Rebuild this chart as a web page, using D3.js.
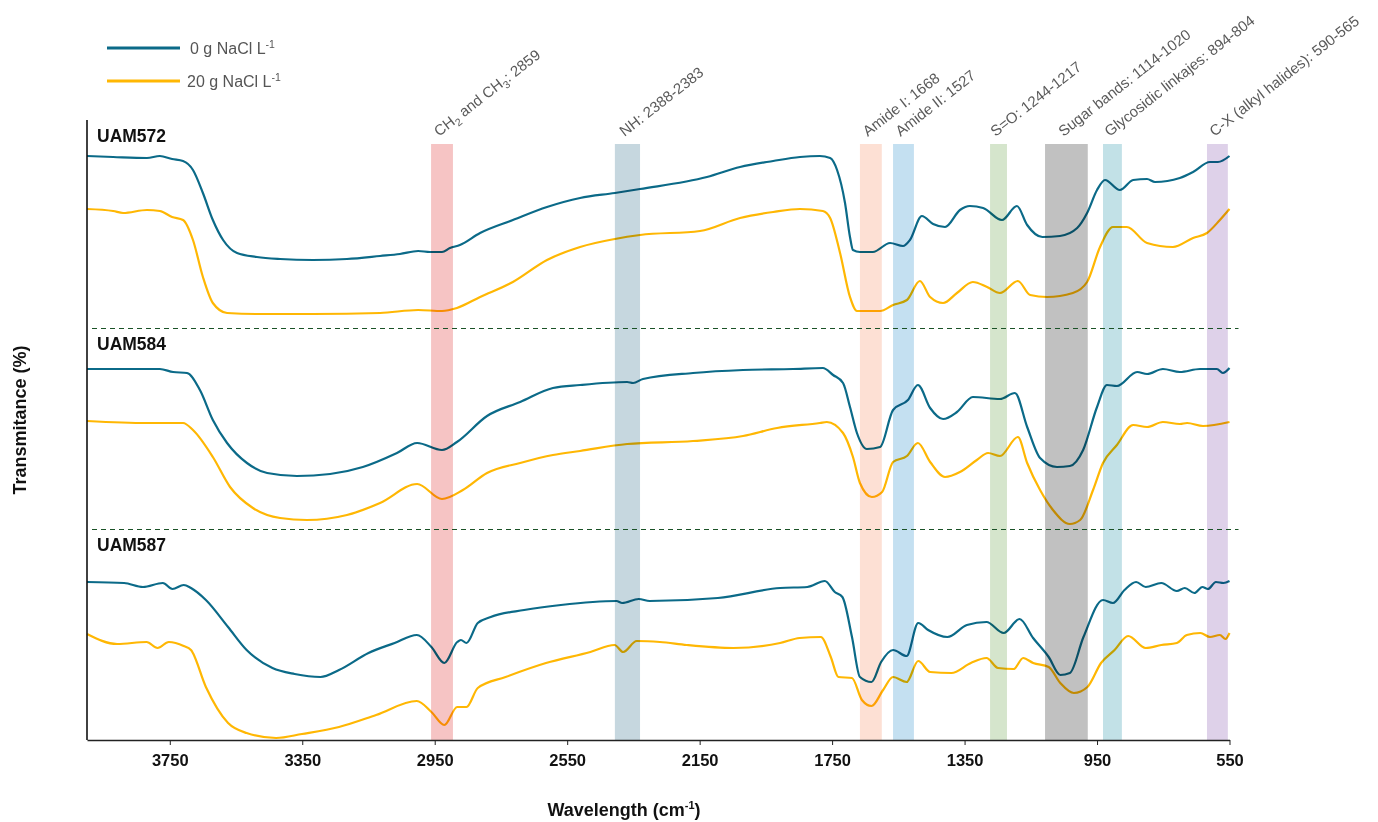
<!DOCTYPE html>
<html>
<head>
<meta charset="utf-8">
<script src="https://cdn.jsdelivr.net/npm/d3@7"></script>
<style>
  body { margin: 0; background: #fff; }
  svg { display: block; }
</style>
</head>
<body>
<svg id="chart"></svg>
<script>
// FTIR spectra: [wavenumber cm-1, stacked transmittance (offset units)]
const uam572Control = [[4000,58.4],[3921,58.3],[3819,58.2],[3780,58.4],[3743,58.1],[3710,57.9],[3680,57.0],[3650,54.7],[3620,52.0],[3589,50.0],[3547,48.7],[3487,48.3],[3417,48.1],[3318,48.0],[3215,48.1],[3115,48.4],[3055,48.6],[3000,48.9],[2964,48.8],[2928,48.8],[2904,49.2],[2874,49.5],[2813,50.7],[2714,52.0],[2611,53.3],[2511,54.2],[2406,54.7],[2330,55.1],[2128,56.3],[2028,57.3],[1928,57.9],[1847,58.3],[1787,58.4],[1756,58.2],[1735,57.0],[1711,53.7],[1696,50.3],[1687,49.0],[1666,48.8],[1627,48.8],[1575,49.7],[1536,49.4],[1515,50.0],[1479,52.4],[1445,51.6],[1409,51.3],[1364,53.0],[1334,53.4],[1294,53.2],[1237,52.0],[1192,53.4],[1161,51.5],[1115,50.3],[1062,50.4],[1010,51.2],[980,52.7],[950,55.0],[926,56.0],[881,55.0],[841,56.0],[799,56.1],[775,55.8],[700,56.2],[660,56.8],[609,57.8],[585,57.8],[550,58.4]];
const uam572Salt = [[4000,53.1],[3921,52.9],[3891,52.7],[3819,53.0],[3780,52.9],[3743,52.3],[3710,52.0],[3680,50.0],[3650,46.3],[3620,43.7],[3577,42.7],[3487,42.6],[3318,42.6],[3115,42.7],[3000,43.0],[2928,42.9],[2883,43.2],[2813,44.3],[2714,45.8],[2611,48.0],[2511,49.3],[2406,50.1],[2330,50.5],[2149,50.9],[2028,52.2],[1928,52.8],[1847,53.1],[1778,52.9],[1756,52.2],[1726,48.7],[1696,44.3],[1675,42.9],[1605,42.9],[1566,43.5],[1524,44.0],[1485,45.9],[1454,44.3],[1415,43.7],[1373,44.7],[1325,45.8],[1282,45.3],[1243,44.7],[1189,45.9],[1152,44.5],[1101,44.3],[1023,44.7],[980,45.8],[941,49.3],[902,51.3],[860,51.3],[799,49.7],[721,49.3],[660,50.2],[618,50.7],[579,52.0],[550,53.1]];
const uam584Control = [[4000,37.1],[3780,37.1],[3740,36.8],[3698,36.7],[3659,35.0],[3620,32.0],[3577,29.7],[3517,27.7],[3456,26.7],[3366,26.4],[3266,26.6],[3167,27.3],[3064,28.7],[3003,29.7],[2928,29.0],[2883,29.8],[2792,32.4],[2692,33.8],[2593,35.2],[2511,35.5],[2369,35.8],[2351,35.7],[2321,36.1],[2170,36.7],[2019,37.0],[1868,37.1],[1778,37.2],[1747,36.5],[1717,35.7],[1696,33.3],[1675,30.7],[1645,29.1],[1605,29.3],[1566,33.0],[1521,34.0],[1491,35.5],[1454,33.2],[1415,32.1],[1373,32.8],[1325,34.3],[1243,34.1],[1198,34.7],[1161,31.3],[1122,28.2],[1071,27.3],[1032,27.4],[992,29.0],[950,33.3],[920,35.5],[890,35.4],[829,36.8],[799,36.6],[751,37.1],[700,36.8],[639,37.1],[588,37.1],[570,36.7],[550,37.2]];
const uam584Salt = [[4000,31.9],[3819,31.7],[3710,31.7],[3680,31.0],[3620,28.3],[3568,25.3],[3499,23.2],[3417,22.2],[3336,22.0],[3215,22.5],[3115,23.7],[3003,25.6],[2928,24.1],[2865,25.0],[2792,26.7],[2692,27.7],[2593,28.5],[2511,28.9],[2369,29.6],[2170,29.9],[2019,30.4],[1916,31.2],[1787,31.7],[1766,31.8],[1717,30.7],[1687,28.3],[1666,25.7],[1630,24.3],[1599,24.8],[1566,27.8],[1524,28.4],[1491,29.7],[1454,27.8],[1409,26.3],[1364,26.8],[1313,28.0],[1279,28.7],[1243,28.4],[1189,30.3],[1161,27.7],[1122,25.0],[1083,23.0],[1032,21.6],[1001,22.0],[962,25.0],[932,27.7],[890,29.5],[841,31.5],[799,31.3],[751,31.8],[700,31.6],[678,31.7],[630,31.4],[550,31.8]];
const uam587Control = [[4000,15.8],[3888,15.7],[3831,15.3],[3771,15.7],[3742,15.1],[3708,15.5],[3686,15.2],[3641,14.0],[3574,11.3],[3518,9.0],[3440,7.2],[3373,6.6],[3295,6.3],[3239,7.0],[3150,8.7],[3071,9.7],[3004,10.5],[2960,9.3],[2921,7.7],[2882,9.8],[2871,10.0],[2854,9.7],[2820,11.7],[2781,12.3],[2680,13.0],[2569,13.5],[2401,13.9],[2384,13.7],[2334,14.1],[2301,13.9],[2095,14.2],[1907,15.2],[1825,15.3],[1772,15.9],[1742,14.8],[1719,14.3],[1690,10.3],[1666,6.3],[1631,5.8],[1602,7.8],[1566,9.0],[1525,8.4],[1490,11.7],[1460,11.0],[1402,10.3],[1343,11.5],[1284,11.8],[1232,10.7],[1184,12.1],[1143,10.2],[1096,8.3],[1061,6.5],[1032,6.7],[991,10.3],[932,14.0],[902,13.7],[867,15.0],[832,15.8],[803,15.3],[756,15.7],[709,14.9],[685,15.2],[656,14.7],[632,15.3],[615,15.1],[591,15.8],[568,15.7],[550,15.9]];
const uam587Salt = [[4000,10.6],[3909,9.6],[3820,9.8],[3787,9.2],[3753,9.8],[3708,9.4],[3686,9.0],[3641,5.3],[3574,1.7],[3518,0.7],[3429,0.2],[3351,0.6],[3239,1.3],[3127,2.5],[3004,3.9],[2960,2.8],[2921,1.5],[2882,3.3],[2854,3.3],[2820,5.2],[2736,6.3],[2614,7.7],[2480,8.8],[2407,9.5],[2381,8.8],[2340,9.9],[2270,9.8],[2189,9.5],[2048,9.2],[1907,9.7],[1848,10.2],[1784,10.3],[1754,8.3],[1731,6.3],[1690,6.2],[1660,4.0],[1631,3.4],[1596,5.0],[1566,6.3],[1525,5.8],[1490,7.9],[1454,6.8],[1390,6.7],[1331,7.7],[1284,8.2],[1249,7.2],[1202,7.1],[1173,8.2],[1143,7.7],[1096,7.3],[1061,5.7],[1020,4.7],[979,5.3],[938,7.7],[897,9.0],[856,10.4],[803,9.2],[756,9.5],[709,9.7],[679,10.5],[638,10.7],[609,10.3],[579,10.5],[562,10.1],[550,10.7]];

// samples and treatments
const samples = ["UAM572", "UAM584", "UAM587"];
const controlSeries = [uam572Control, uam584Control, uam587Control];
const saltSeries = [uam572Salt, uam584Salt, uam587Salt];
const treatments = ["0 g NaCl L", "20 g NaCl L"];
const separatorLevels = [41.2, 21.1];

// highlighted band regions (edges in cm-1, as drawn)
const bandLabels = ["CH|2| and CH|3|: 2859", "NH: 2388-2383", "Amide I: 1668", "Amide II: 1527",
  "S=O: 1244-1217", "Sugar bands: 1114-1020", "Glycosidic linkajes: 894-804", "C-X (alkyl halides): 590-565"];
const bandHigh = [2961, 2406, 1666, 1566, 1273, 1107, 932, 618];
const bandLow = [2895, 2330, 1600, 1503, 1222, 978, 875, 555];
const bandColors = ["#f6c4c4", "#c6d7df", "#fde0d4", "#c4e0f1", "#d5e5cc", "#c1c1c1", "#c2e1e7", "#ded1e9"];

const xTicks = [3750, 3350, 2950, 2550, 2150, 1750, 1350, 950, 550];
const colors = ["#0b6a88", "#ffb703"];

const width = 1378;
const height = 822;
const margin = { top: 120, right: 148.5, bottom: 82, left: 87 };

const svg = d3.select("#chart")
  .attr("width", width)
  .attr("height", height)
  .style("font-family", "'Liberation Sans', Arial, sans-serif");

const x = d3.scaleLinear()
  .domain([4000, 550])
  .range([margin.left, width - margin.right]);

const y = d3.scaleLinear()
  .domain([0, 62])
  .range([height - margin.bottom, margin.top]);

const line = d3.line()
  .x(d => x(d[0]))
  .y(d => y(d[1]))
  .curve(d3.curveMonotoneX);

// Spectra
const plot = svg.append("g");
[controlSeries, saltSeries].forEach((group, i) => {
  plot.selectAll(null)
    .data(group)
    .enter().append("path")
    .attr("d", line)
    .attr("fill", "none")
    .attr("stroke", colors[i])
    .attr("stroke-width", 2.2)
    .attr("stroke-linejoin", "round");
});

// Band shading drawn over the spectra (multiply keeps the lines visible)
const bandTop = 144;
svg.append("g")
  .selectAll("rect")
  .data(bandLabels.map((label, i) => ({ label, hi: bandHigh[i], lo: bandLow[i], color: bandColors[i] })))
  .enter().append("rect")
  .attr("x", d => x(d.hi))
  .attr("width", d => x(d.lo) - x(d.hi))
  .attr("y", bandTop)
  .attr("height", y(0) - bandTop)
  .attr("fill", d => d.color)
  .style("mix-blend-mode", "multiply");

// Band labels, rotated
const labelG = svg.append("g");
bandLabels.forEach((label, i) => {
  const cx = (x(bandHigh[i]) + x(bandLow[i])) / 2;
  const t = labelG.append("text")
    .attr("transform", `translate(${cx - 3},${bandTop - 7}) rotate(-38)`)
    .attr("font-size", 15)
    .attr("fill", "#5a5a5a");
  // "|n|" marks a subscript
  label.split("|").forEach((part, j) => {
    if (!part) return;
    const sub = j % 2 === 1;
    t.append("tspan")
      .attr("dy", sub ? 4 : (j > 0 ? -4 : 0))
      .attr("font-size", sub ? 10.5 : 15)
      .text(part);
  });
});

// Dashed separators between samples
svg.append("g")
  .selectAll("line")
  .data(separatorLevels)
  .enter().append("line")
  .attr("x1", margin.left + 5)
  .attr("x2", width - margin.right + 9)
  .attr("y1", d => Math.round(y(d)) + 0.5)
  .attr("y2", d => Math.round(y(d)) + 0.5)
  .attr("stroke", "#1a5227")
  .attr("stroke-width", 1)
  .attr("stroke-dasharray", "5,4");

// Sample labels
const panelTops = [margin.top].concat(separatorLevels.map(v => y(v)));
svg.append("g")
  .selectAll("text")
  .data(samples)
  .enter().append("text")
  .attr("x", margin.left + 10)
  .attr("y", (d, i) => panelTops[i] + 22)
  .attr("font-size", 17.5)
  .attr("font-weight", "bold")
  .attr("fill", "#111")
  .text(d => d);

// Axes
const xAxis = svg.append("g")
  .attr("transform", `translate(0,${y(0)})`)
  .call(d3.axisBottom(x).tickValues(xTicks).tickSize(5).tickSizeOuter(0).tickFormat(d3.format("d")));
xAxis.select(".domain").attr("stroke", "#222").attr("stroke-width", 1.3);
xAxis.selectAll(".tick line").attr("stroke", "#222");
xAxis.selectAll(".tick text")
  .attr("font-family", "'Liberation Sans', Arial, sans-serif")
  .attr("font-weight", "bold")
  .attr("font-size", 16.5)
  .attr("fill", "#111")
  .attr("y", 14)
  .attr("dy", "0.71em");

svg.append("line")
  .attr("x1", margin.left).attr("x2", margin.left)
  .attr("y1", margin.top).attr("y2", y(0))
  .attr("stroke", "#111")
  .attr("stroke-width", 1.6);

// Axis titles
const xTitle = svg.append("text")
  .attr("x", 624)
  .attr("y", 816)
  .attr("text-anchor", "middle")
  .attr("font-size", 18)
  .attr("font-weight", "bold")
  .attr("fill", "#111");
xTitle.append("tspan").text("Wavelength (cm");
xTitle.append("tspan").attr("dy", -7).attr("font-size", 11).text("-1");
xTitle.append("tspan").attr("dy", 7).text(")");

svg.append("text")
  .attr("transform", `translate(26,420) rotate(-90)`)
  .attr("text-anchor", "middle")
  .attr("font-size", 18)
  .attr("font-weight", "bold")
  .attr("fill", "#111")
  .text("Transmitance (%)");

// Legend
const legend = svg.append("g");
treatments.forEach((label, i) => {
  const ly = 48 + i * 33;
  legend.append("line")
    .attr("x1", 107).attr("x2", 180)
    .attr("y1", ly).attr("y2", ly)
    .attr("stroke", colors[i])
    .attr("stroke-width", 3);
  const t = legend.append("text")
    .attr("x", i === 0 ? 190 : 187)
    .attr("y", ly + 6)
    .attr("font-size", 16)
    .attr("fill", "#555");
  t.append("tspan").text(label);
  t.append("tspan").attr("dy", -6).attr("font-size", 10.5).text("-1");
});
</script>
</body>
</html>
